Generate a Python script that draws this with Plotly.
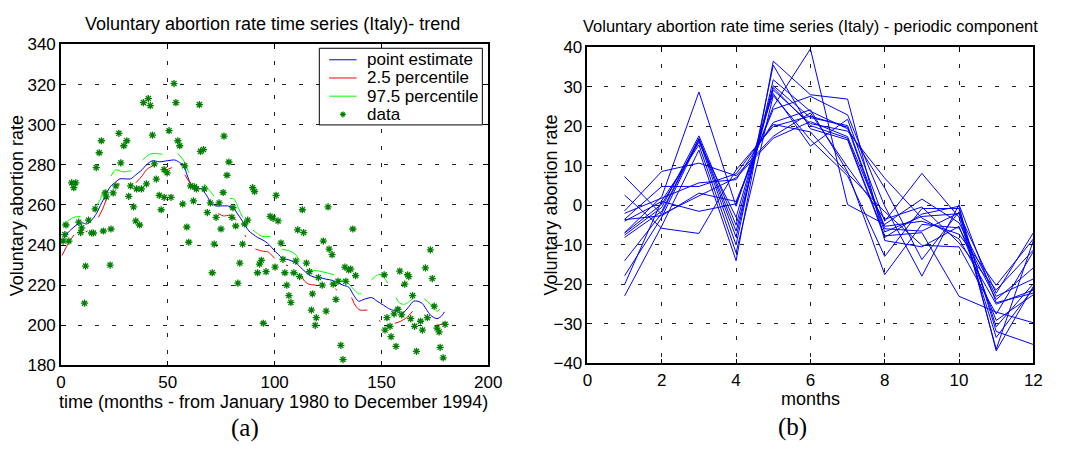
import plotly.graph_objects as go

W, H = 1068, 453

# ---------------- trend panel ----------------
# observed monthly rates (month index, rate)
data_month = [
    52.9, 53.8, 64.8, 40.9, 38.6, 41.8, 27.1, 18.9, 30.8, 29.4, 42.8, 50.6, 54.7, 55.6,
    65.3, 17.9, 28.0, 16.5, 43.7, 48.3, 49.7, 57.9, 44.6, 5.0, 6.9, 6.0, 25.7, 32.6,
    35.4, 37.7, 40.0, 60.7, 62.5, 63.4,
    76.3, 66.7, 78.6, 77.7, 89.7, 90.6, 100.7, 75.9, 67.1, 62.0, 57.0, 69.9, 74.0, 80.5, 113.0,
    2.3, 1.8, 1.0, 3.7, 8.3, 9.7, 9.2, 12.9, 14.3, 15.2, 19.8, 23.4, 11.5, 23.0, 11.0, 16.0,
    20.7, 21.2, 24.4, 31.7, 34.0, 35.0, 36.8, 46.0, 48.3, 46.9, 51.5, 58.9, 59.8,
    68.5, 72.6, 80.0, 81.8, 87.4, 86.0, 74.9, 97.9, 99.3, 101.6, 125.0, 110.8, 113.6,
    71.7, 85.0, 103.0, 122.8, 125.5, 126.9, 83.7, 93.8, 92.9, 103.9, 109.9, 114.9, 132.9,
    70.8, 92.0, 96.0, 100.2, 104.8, 109.0, 111.7, 116.3, 120.5, 122.3, 127.4, 129.7, 133.3,
    82.8, 105.7, 117.7, 106.7, 107.6, 128.7, 117.2, 124.1, 119.5, 119.0, 94.7, 131.0,
    136.6, 172.9, 134.7, 135.6, 137.9, 158.6, 162.3, 162.8, 170.6, 173.8, 151.3, 160.9,
    164.6, 157.7, 155.9, 159.5, 152.6, 174.7, 171.5, 163.7, 168.3, 154.0, 151.7, 165.5,
    169.2, 176.0, 177.0, 179.8, 154.5, 156.8, 166.4, 177.5, 132.0, 178.9,
]
data_rate = [
    320.5, 311.0, 310.0, 313.0, 311.0, 309.5, 295.7, 292.0, 292.0, 289.5, 294.8, 297.0, 292.0, 289.5,
    286.7, 286.0, 281.0, 278.6, 280.5, 277.6, 276.0, 279.5, 272.9, 271.0, 271.0, 268.6, 269.5, 269.5,
    268.0, 268.0, 270.5, 269.5, 269.0, 268.0,
    294.3, 287.6, 281.4, 274.8, 268.6, 266.7, 264.8, 266.2, 268.0, 262.0, 260.5, 261.0, 261.0, 258.6, 257.6,
    250.0, 245.2, 242.0, 242.0, 251.4, 248.6, 246.2, 252.4, 246.0, 246.0, 247.0, 248.0, 229.5, 230.0, 211.0, 258.0,
    266.0, 264.0, 266.0, 264.3, 259.0, 252.0, 250.0, 264.8, 263.8, 257.6, 263.8, 249.0, 241.4,
    256.2, 253.8, 253.8, 249.5, 252.4, 250.5, 248.0, 254.3, 253.3, 252.0, 259.0, 247.6, 246.2,
    240.5, 240.5, 241.0, 242.0, 238.0, 235.2, 231.0, 232.4, 230.5, 232.9, 232.0, 231.0, 229.0,
    226.2, 226.2, 226.7, 229.0, 226.2, 226.2, 224.3, 226.7, 223.8, 220.0, 220.5, 221.9, 221.9,
    221.0, 220.0, 215.7, 214.8, 211.4, 212.9, 207.6, 207.1, 203.8, 200.0, 201.0, 190.0,
    248.0, 237.6, 227.6, 228.0, 224.8, 227.0, 225.2, 224.3, 228.6, 223.3, 225.2, 220.5,
    214.8, 208.0, 205.7, 205.2, 203.8, 209.5, 203.8, 203.3, 202.0, 199.5, 197.6, 199.5,
    197.6, 198.6, 196.7, 200.5, 194.3, 189.5, 187.0, 189.0, 182.9, 183.8,
]

# point estimate of the trend
trend_month = [0.5, 4, 7.4, 10, 12, 14, 16.6, 19, 21, 23, 25.7, 27.6, 30, 32.6, 35, 38, 40,
               42.8, 46, 49.7, 53.3, 55, 57.5, 59, 61, 63, 65.7, 68, 70.3, 72.5, 75, 78,
               80.5, 83, 85.5, 88, 92, 94.5, 96.6, 99.3, 101.5, 104, 107, 110, 113, 116,
               118.5, 121, 124, 127, 130, 132, 134.7, 137, 139.3, 142, 145.4, 148, 151,
               154, 157, 159, 161, 163, 165, 167, 169, 171, 173, 176, 178, 179.5]
trend_rate = [242, 247, 250, 251, 250.5, 252, 255.7, 261, 265, 269, 271.5, 273, 273, 273,
              275, 277.6, 280, 282, 281.5, 282, 282.4, 281.5, 279.5, 275, 270, 268.5, 268,
              265, 261, 259.5, 259.5, 259.5, 258.6, 255, 251, 247, 243.8, 242.5, 241, 238,
              235.5, 233.3, 232.5, 231, 228, 225.2, 224, 223.8, 223, 222.4, 221, 220, 219,
              215, 212, 213, 213.8, 212, 210, 208, 207, 206, 207, 209.5, 212, 212, 211,
              208, 205, 203.3, 204.5, 206.7]

# 2.5 percentile band (None = not drawn)
lower_month = [0.5, 3, 6, None, 11.5, 12.5, None, 17.5, 19.5, 21.2, None, 26, 27.5, None,
               35, 38, 40, 42.8, None, 48.7, 50.5, 52, None, 58, 60, 62.5, None, 69, 70, None,
               73.6, 76, 79, 82, None, 86, 86.6, None, 91, 94, 97, 100, None, 105.3, 106.3, None,
               112.6, 114, 116, 119.5, None, 128.4, 129.2, None, 136, 138, 140, 143.4, None,
               148.8, 149.6, None, 156.3, 159, 162, 164.6, None, 170, 172.4, None, 176, 178, 179.8]
lower_rate = [234.8, 240, 245, None, 246.6, 247, None, 253.8, 258, 262.8, None, 269.5, 270.5, None,
              271, 274.5, 277.5, 279.5, None, 277, 278, 278.6, None, 275, 271.5, 267.6, None, 262, 260.5, None,
              255.7, 254.5, 254.8, 252.4, None, 245, 244, None, 238, 237, 236.5, 233.3, None, 230, 229.7, None,
              224.8, 222, 220.5, 220, None, 218.2, 217.5, None, 213.8, 209.5, 207.6, 207.6, None,
              202.5, 201.9, None, 201, 202, 204, 207, None, 205.2, 203.3, None, 200, 200.5, 201.4]

# 97.5 percentile band (None = not drawn)
upper_month = [1, 3.7, 6, 9.2, None, 16.6, 18.5, 19.8, 21.5, None, 23.4, 25.5, 29, 33, None,
               38.2, 41.4, 44.1, 47.4, None, 54.7, 57.5, 59.8, None, 67, 69, 71.7, None,
               79, 81, 83.2, 85, None, 89.7, 92, 94.3, 98, None, 103.4, 107, 109.4, 111.7, None,
               116, 121, 127.8, None, 130, 133.8, 137, 139.3, 140.7, None, 145.3, 147.6, 150, 153, None,
               156.8, 158.6, 160.9, 163.2, 164.6, None, 170, 172.9, 176, 177.5]
upper_rate = [250.5, 252.4, 253.8, 254.3, None, 259.5, 263, 266.7, 267.5, None, 274.3, 277.5, 276.5, 277, None,
              282.4, 285.2, 285.7, 285.2, None, 285.7, 282, 276, None, 270.5, 268, 264.3, None,
              263.3, 262.9, 258, 253.8, None, 247.6, 245.7, 244.3, 244.3, None, 238, 237, 235.7, 232.4, None,
              227.6, 227, 225.2, None, 222.8, 221.4, 218, 215.7, 215.7, None, 222.4, 224.8, 225.2, 221, None,
              213.8, 211, 210.5, 212, 213.3, None, 213.3, 210.5, 207, 208]

# ---------------- periodic component panel ----------------
months = [1, 2, 3, 4, 5, 6, 7, 8, 9, 10, 11, 12]
p1980 = [7.3, -2.3, 2.4, 7, 17, 21.2, 17.4, -5.3, -4, -7.3, -20.2, -8.5]
p1981 = [2.6, -5.8, -7.1, 9, 20, 22.6, 19.8, -6.7, -2.8, -2.1, -22.2, -6.9]
p1982 = [-1.4, 8.6, 10.7, 7.5, 17.5, 23.4, 9.7, -3.5, -0.4, -9.5, -21.4, -11.3]
p1983 = [-2, 1.8, 5.7, 6.5, 21, 24.2, 8.5, -17.5, -4.8, -5.7, -23.8, -15.8]
p1984 = [-3.5, 4.8, 4.8, 8, 20.5, 18.6, 8.1, -1.6, -10.1, -10.5, -27.5, -11.7]
p1985 = [-3.6, -2.6, 3.1, 1, 24.3, 27.6, 22.9, -0.2, -17.9, 0.2, -24.6, -22.2]
p1986 = [-4, 1, -1.5, 0.4, 25, 39.6, 0.2, -4.8, 1.6, -4.4, -23, -18.6]
p1987 = [-6.9, 2.2, 28.7, -0.2, 28.3, 15, 21.8, -4, 8.1, -3, -33.4, -21]
p1988 = [-7, 0.3, 16, -3, 29.2, 20.7, 18.8, 6.9, -3.2, -8.5, -25, -21.4]
p1989 = [-7.5, -0.5, 17.6, -5, 30.3, 22.2, 20.2, -5.9, -6.5, -1.9, -30.7, -19.8]
p1990 = [-8.1, -1.5, 17, -6.5, 29.8, 20.2, 17, -7.7, -6.9, -23, -27, -29.7]
p1991 = [-14, -2, 16.8, -8, 31.8, 23.8, 19.4, 4.4, -13.7, -1.6, -36.4, -8.9]
p1992 = [-17.8, -3, 16.5, -10, 35.5, 19.4, 16.6, -8.1, -2.2, -0.2, -36.8, -20.5]
p1993 = [-20, 1.2, 15.3, -12, 27.8, 16.6, 7.5, -12.9, -0.8, -0.8, -31.9, -35.2]
p1994 = [-22.9, -5.2, 14, -14, 36.5, 28, 26.9, -8.9, -10.5, -5.3, -29.1, -22.6]
yearly_profiles = [p1980, p1981, p1982, p1983, p1984, p1985, p1986, p1987,
                   p1988, p1989, p1990, p1991, p1992, p1993, p1994]

# legend entries for the trend panel
legend_labels = ["point estimate", "2.5 percentile", "97.5 percentile", "data"]
legend_colors = ["#0000ff", "#ff0000", "#00ff00", "#008000"]

SANS = "Liberation Sans, Arial, sans-serif"
SERIF = "Liberation Serif, Times New Roman, serif"

fig = go.Figure()

fig.add_trace(go.Scatter(x=trend_month, y=trend_rate, mode="lines", name=legend_labels[0],
                         line=dict(color=legend_colors[0], width=1, shape="spline", smoothing=0.8),
                         xaxis="x", yaxis="y"))
fig.add_trace(go.Scatter(x=lower_month, y=lower_rate, mode="lines", name=legend_labels[1],
                         connectgaps=False,
                         line=dict(color=legend_colors[1], width=1, shape="spline", smoothing=0.8),
                         xaxis="x", yaxis="y"))
fig.add_trace(go.Scatter(x=upper_month, y=upper_rate, mode="lines", name=legend_labels[2],
                         connectgaps=False,
                         line=dict(color=legend_colors[2], width=1, shape="spline", smoothing=0.8),
                         xaxis="x", yaxis="y"))
fig.add_trace(go.Scatter(x=data_month, y=data_rate, mode="markers", name=legend_labels[3],
                         marker=dict(symbol="asterisk-open", size=6, color=legend_colors[3],
                                     line=dict(color=legend_colors[3], width=1.3)),
                         xaxis="x", yaxis="y"))

for prof in yearly_profiles:
    fig.add_trace(go.Scatter(x=months, y=prof, mode="lines",
                             line=dict(color="#0000ff", width=1),
                             xaxis="x2", yaxis="y2"))

grid = dict(showgrid=True, gridcolor="#222222", gridwidth=1, griddash="4px,13px",
            showline=True, linecolor="black", linewidth=1.5, mirror="ticks",
            ticks="inside", ticklen=5, tickcolor="black", zeroline=False,
            tickfont=dict(family=SANS, size=17, color="black"))

fig.update_layout(
    width=W, height=H,
    margin=dict(l=0, r=0, t=0, b=0),
    paper_bgcolor="white", plot_bgcolor="white",
    showlegend=False,
    xaxis=dict(domain=[57 / W, 492 / W], range=[0, 200], tickvals=[0, 50, 100, 150, 200],
               anchor="y", **grid),
    yaxis=dict(domain=[(H - 372) / H, (H - 37) / H], range=[180, 340],
               tickvals=list(range(180, 341, 20)), anchor="x", **grid),
    xaxis2=dict(domain=[593 / W, 1047 / W], range=[0, 12], tickvals=list(range(0, 13, 2)),
                anchor="y2", **grid),
    yaxis2=dict(domain=[(H - 370) / H, (H - 40) / H], range=[-40, 40],
                tickvals=list(range(-40, 41, 10)), anchor="x2", **grid),
)


def px_x(x):
    return x / W


def px_y(y):
    return 1 - y / H


def label(text, x, y, size, family=SANS, angle=0, anchor="center"):
    fig.add_annotation(text=text, x=px_x(x), y=px_y(y), xref="paper", yref="paper",
                       xanchor=anchor, yanchor="middle", showarrow=False, textangle=angle,
                       font=dict(family=family, size=size, color="black"))


# legend box of the trend panel
fig.add_shape(type="rect", xref="paper", yref="paper",
              x0=px_x(320), x1=px_x(486), y0=px_y(121), y1=px_y(41),
              line=dict(color="black", width=1), fillcolor="white", layer="above")
for i, (name, col) in enumerate(zip(legend_labels, legend_colors)):
    yy = 53 + 19 * i
    if name == "data":
        fig.add_shape(type="path", xref="paper", yref="paper",
                      xsizemode="pixel", ysizemode="pixel",
                      xanchor=px_x(344), yanchor=px_y(yy),
                      path="M-3,0L3,0M0,-3L0,3M-2,-2L2,2M-2,2L2,-2",
                      line=dict(color=col, width=1.3), layer="above")
    else:
        fig.add_shape(type="line", xref="paper", yref="paper",
                      x0=px_x(330), x1=px_x(358), y0=px_y(yy), y1=px_y(yy),
                      line=dict(color=col, width=1), layer="above")
    label(name, 367, yy, 17, anchor="left")

label("Voluntary abortion rate time series (Italy)- trend", 272, 16, 18)
label("Voluntary abortion rate time series (Italy) - periodic component", 820, 18, 16.5)
label("time (months - from January 1980 to December 1994)", 273, 410, 18)
label("months", 820, 407, 18)
label("Voluntary abortion rate", 13, 205, 18, angle=-90)
label("Voluntary abortion rate", 556, 205, 18, angle=-90)
label("(a)", 244, 437, 25, family=SERIF)
label("(b)", 802, 436, 25, family=SERIF)

fig.write_html("out.html")
